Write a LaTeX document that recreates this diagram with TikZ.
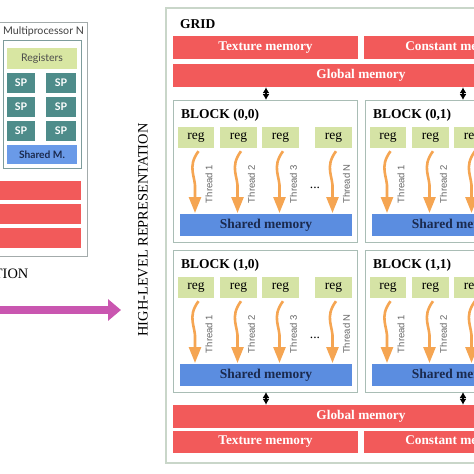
\documentclass[tikz,border=0pt]{standalone}
\usepackage{fontspec}
\setmainfont{Liberation Serif}
\newfontfamily\latofont{Lato}
\newfontfamily\arialfont{Liberation Sans}
\usetikzlibrary{arrows.meta}
\definecolor{redbar}{HTML}{F25A5A}
\definecolor{reggreen}{HTML}{D5E3A5}
\definecolor{leftgreen}{HTML}{D8E6A2}
\definecolor{shblue}{HTML}{5B8DE0}
\definecolor{leftblue}{HTML}{6A9AE8}
\definecolor{navy}{HTML}{1B2A4E}
\definecolor{spteal}{HTML}{4E8C8A}
\definecolor{thorange}{HTML}{F5A552}
\definecolor{blkborder}{HTML}{A9BDB5}
\definecolor{gridborder}{HTML}{C9D6C9}
\definecolor{pinkarrow}{HTML}{C956B0}
\definecolor{mpborder}{HTML}{A3ABAB}
\definecolor{mpinner}{HTML}{7E9C9C}
\tikzset{
  redmem/.style={fill=redbar, draw=none, text=white, inner sep=0pt, font=\bfseries\fontsize{13.3}{15}\selectfont},
  regbox/.style={fill=reggreen, draw=none, inner sep=0pt, minimum width=36.5pt, minimum height=21pt, font=\fontsize{13.5}{15}\selectfont},
  shmem/.style={fill=shblue, draw=none, text=navy, inner sep=0pt, minimum width=172pt, minimum height=22pt, font=\bfseries\fontsize{13.5}{15}\selectfont},
  blockbox/.style={draw=blkborder, line width=0.9pt, fill=white},
  thread/.style={draw=thorange, line width=2.6pt, -{Triangle[width=12pt,length=16pt]}},
  threadlbl/.style={rotate=90, text=black!60, inner sep=0pt, font=\arialfont\fontsize{9.5}{11}\selectfont},
  dbl/.style={black, line width=1.4pt, {Latex[length=6pt,width=7pt]}-{Latex[length=6pt,width=7pt]}},
  spbox/.style={fill=spteal, draw=none, text=white, inner sep=0pt, minimum width=28pt, minimum height=20pt, font=\latofont\bfseries\fontsize{10.5}{12}\selectfont},
}
\begin{document}
\begin{tikzpicture}[x=1pt,y=-1pt]
\useasboundingbox (0,0) rectangle (474,474);
\clip (0,0) rectangle (474,474);
\fill[white] (0,0) rectangle (474,474);

% ---------- left: multiprocessor ----------
\draw[mpborder, line width=0.9pt] (-6,22) rectangle (87,256);
\node[anchor=west, inner sep=0pt, text=black!75, font=\latofont\fontsize{10.6}{12}\selectfont] (mpn) at (3,32) {Multiprocessor N};
\draw[mpinner, line width=0.9pt] (3,40) rectangle (81,168);
\node[fill=leftgreen, inner sep=0pt, minimum width=70pt, minimum height=21pt, text=black!70, font=\latofont\fontsize{10.5}{12}\selectfont] (regs) at (42,58.5) {Registers};
\foreach \r/\y in {1/83,2/107,3/131}{
  \node[spbox] (spl\r) at (21,\y) {SP};
  \node[spbox, minimum width=30pt] (spr\r) at (61,\y) {SP};
}
\node[fill=leftblue, inner sep=0pt, minimum width=70pt, minimum height=19pt, text=navy, font=\latofont\bfseries\fontsize{10.2}{12}\selectfont] (shm) at (42,154.5) {Shared M.};
\fill[redbar] (-6,181) rectangle (81,200);
\fill[redbar] (-6,204) rectangle (81,224);
\fill[redbar] (-6,228) rectangle (81,248);
\node[anchor=east, inner sep=0pt, font=\fontsize{14.4}{16}\selectfont] (tion) at (28.5,274) {TION};

% pink arrow
\coordinate (pa) at (-6,310);
\coordinate (pb) at (121,310);
\draw[pinkarrow, line width=8pt, -{Triangle[width=21pt,length=13pt]}] (pa) -- (pb);

\node[rotate=90, inner sep=0pt, font=\fontsize{14.4}{16}\selectfont] (hlr) at (143,230) {HIGH-LEVEL REPRESENTATION};

% ---------- grid ----------
\draw[gridborder, line width=1.3pt, fill=white] (166,8) rectangle (520,463);
\node[anchor=west, inner sep=0pt, font=\bfseries\fontsize{13.5}{15}\selectfont] (grid) at (180,24) {GRID};

\node[redmem, minimum width=185pt, minimum height=23pt] (tex1) at (265.5,47.5) {Texture memory};
\node[redmem, minimum width=185pt, minimum height=23pt] (con1) at (456.5,47.5) {Constant memory};
\node[redmem, minimum width=376pt, minimum height=23pt] (glo1) at (361,75.5) {Global memory};

\node[redmem, minimum width=376pt, minimum height=23pt] (glo2) at (361,416.5) {Global memory};
\node[redmem, minimum width=185pt, minimum height=22pt] (tex2) at (265.5,442) {Texture memory};
\node[redmem, minimum width=185pt, minimum height=22pt] (con2) at (456.5,442) {Constant memory};

\foreach \r/\yo in {0/100,1/250}{
 \foreach \c/\xo in {0/173,1/365}{
  \draw[blockbox] (\xo,\yo) rectangle ++(184,142);
  \node[anchor=west, inner sep=0pt, font=\bfseries\fontsize{13.5}{15}\selectfont] (blk\r\c) at (\xo+8,\yo+15) {BLOCK (\r,\c)};
  \node[shmem] (sh\r\c) at (\xo+93,\yo+125) {Shared memory};
  \foreach \k/\dx/\lbl in {1/23/Thread 1,2/65.5/Thread 2,3/107.5/Thread 3,4/160.5/Thread N}{
    \node[regbox] (reg\r\c\k) at (\xo+\dx,\yo+37.5) {reg};
    \coordinate (te\r\c\k) at (\xo+\dx-1,\yo+113);
    \draw[thread] ([xshift=2.5pt,yshift=-3pt]reg\r\c\k.south) .. controls +(-12,16) and +(1,-12) .. ([yshift=24pt]te\r\c\k) -- (te\r\c\k);
    \node[threadlbl] (tl\r\c\k) at (\xo+\dx+13,\yo+84) {\lbl};
  }
  \node[inner sep=0pt, font=\fontsize{13.5}{15}\selectfont] (dots\r\c) at (\xo+142,\yo+88) {...};
 }
}
% double arrows
\coordinate (bt00) at (266,100);
\coordinate (bt01) at (463,100);
\coordinate (bb10) at (266,392);
\coordinate (bb11) at (463,392);
\draw[dbl] (glo1.south -| bt00) -- (bt00);
\draw[dbl] (glo1.south -| bt01) -- (bt01);
\draw[dbl] (bb10) -- (glo2.north -| bb10);
\draw[dbl] (bb11) -- (glo2.north -| bb11);
\end{tikzpicture}
\end{document}
